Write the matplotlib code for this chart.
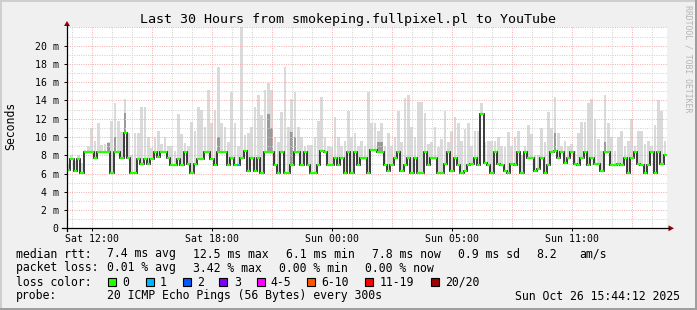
import numpy as np
import matplotlib
matplotlib.use("Agg")
import matplotlib.pyplot as plt
from matplotlib.patches import Rectangle, Polygon
from matplotlib.lines import Line2D

W, H = 697, 310
MONO = "DejaVu Sans Mono"

# median rtt in ms, one value per 10 minutes (30 hours)
median_ms = [
    6.4, 7.6, 6.3, 7.6, 6.1, 8.4, 8.4, 8.4, 7.7, 8.4,
    8.4, 8.4, 8.4, 6.1, 8.4, 8.4, 7.7, 10.4, 7.7, 6.1,
    6.1, 7.6, 7.0, 7.6, 7.0, 7.6, 8.4, 7.8, 8.4, 8.4,
    7.7, 6.9, 6.9, 7.6, 6.9, 8.4, 7.0, 6.1, 7.0, 7.6,
    7.6, 8.4, 8.4, 7.6, 6.9, 8.4,
    8.4, 8.4, 6.9, 7.7, 6.9, 6.9, 7.7, 8.5, 6.3, 7.7,
    6.3, 7.7, 6.1, 8.4, 8.4, 8.4, 6.9, 6.1, 8.4, 6.1,
    6.1, 6.9, 8.4, 8.4, 6.9, 8.4, 6.9, 6.1, 6.1, 6.9,
    8.5, 8.4, 6.9, 6.9, 7.7, 6.9, 7.7, 6.1, 8.4, 6.1,
    8.4, 6.9, 7.7, 7.7, 6.1,
    8.6, 8.6, 8.4, 8.4, 6.9, 6.3, 6.9, 7.7, 8.4, 6.3,
    6.9, 7.7, 6.1, 7.7, 6.1, 6.1, 8.4, 6.9, 7.7, 7.7,
    6.1, 6.1, 7.0, 8.4, 6.3, 7.7, 6.9, 6.1, 6.3, 6.9,
    7.0, 7.7, 6.9, 12.5, 7.2, 6.9, 6.1, 8.4, 7.0, 6.9,
    6.3, 6.1, 7.0, 6.9, 8.4,
    6.1, 8.4, 7.7, 7.7, 6.3, 6.5, 7.7, 6.1, 6.9, 8.4,
    8.5, 7.7, 8.4, 7.2, 7.7, 8.4, 7.0, 6.9, 7.7, 8.4,
    6.9, 7.7, 7.0, 7.0, 6.3, 8.4, 8.4, 6.9, 6.9, 7.0,
    6.9, 7.7, 6.1, 7.7, 8.4, 7.0, 6.9, 6.1, 6.9, 8.4,
    6.1, 8.4, 7.0, 8.0,
]

# top of the smoke (slowest ping) in ms
smoke_max_ms = [
    7.0, 8.0, 7.4, 8.0, 7.2, 8.6, 9.0, 11.0, 9.6, 11.5,
    9.1, 9.2, 9.5, 11.8, 13.7, 11.8, 10.5, 14.2, 10.4, 8.0,
    10.4, 10.4, 13.3, 13.3, 10.0, 8.8, 10.0, 10.7, 9.2, 10.0,
    9.0, 9.0, 8.5, 12.5, 10.3, 9.3, 9.0, 11.6, 10.7, 13.3,
    13.0, 11.1, 15.1, 11.5, 13.0, 17.7,
    11.5, 11.1, 9.5, 14.9, 11.5, 9.0, 22.0, 10.2, 10.4, 11.1,
    13.3, 14.6, 12.4, 15.1, 15.9, 15.1, 10.0, 9.5, 12.7, 17.7,
    11.1, 14.2, 14.9, 11.1, 10.0, 9.0, 9.1, 9.1, 10.0, 11.8,
    14.4, 10.0, 9.0, 8.9, 12.2, 10.0, 9.0, 9.6, 12.9, 10.0,
    10.4, 9.0, 9.6, 9.0,
    14.9, 11.5, 11.5, 10.7, 11.5, 9.0, 10.4, 9.0, 10.0, 12.9,
    9.5, 14.3, 14.6, 11.1, 10.0, 13.8, 13.8, 12.6, 9.2, 9.4,
    11.1, 8.9, 9.8, 12.9, 9.5, 10.7, 12.2, 11.5, 9.6, 10.9,
    11.5, 9.0, 10.7, 10.7, 13.7, 9.4, 9.6, 9.6, 9.6, 10.0,
    9.0, 8.9, 10.5, 9.0, 10.0,
    10.7, 8.0, 9.0, 11.3, 10.3, 8.0, 8.0, 11.0, 9.5, 12.7,
    11.0, 14.4, 10.4, 9.0, 9.6, 9.0, 9.2, 8.5, 10.4, 11.6,
    11.6, 13.7, 14.2, 12.0, 9.8, 8.5, 14.6, 11.5, 10.0, 8.5,
    10.0, 10.7, 9.0, 9.6, 12.0, 9.0, 10.7, 10.7, 9.2, 9.6,
    9.0, 11.3, 14.0, 12.9, 9.6,
]

# denser smoke near the median
dark_idx = [12, 14, 17, 45, 60, 61, 67, 68, 93, 94, 146, 161]
dark_top_ms = [9.3, 10.0, 12.6, 10.0, 12.5, 11.0, 10.5, 10.0, 9.5, 9.5, 10.4, 9.5]

# samples with packet loss (bucket index into loss colours)
loss_idx = [51]
loss_bucket = [1]

x_tick_labels = ["Sat 12:00", "Sat 18:00", "Sun 00:00", "Sun 05:00", "Sun 11:00"]
y_tick_labels = ["0", "2 m", "4 m", "6 m", "8 m", "10 m", "12 m", "14 m",
                 "16 m", "18 m", "20 m"]
loss_labels = ["0", "1", "2", "3", "4-5", "6-10", "11-19", "20/20"]
loss_colors = ["#26ff00", "#00b8ff", "#0059ff", "#7e00ff", "#ff00ff",
               "#ff5500", "#ff0000", "#a10000"]


def fx(px):
    return px / W


def fy(py):
    return 1 - py / H


fig = plt.figure(figsize=(W / 100, H / 100), dpi=100, facecolor="#f0f0f0")

ax = fig.add_axes([fx(67), fy(228.3), 600 / W, (228.3 - 26.7) / H])
ax.set_facecolor("white")
ax.set_xlim(0, 30)
ax.set_ylim(0, 22.08)
for s in ax.spines.values():
    s.set_visible(False)

med = np.array(median_ms)
hi = np.array(smoke_max_ms)
n = len(med)
step = 30 / n
edges = np.arange(n + 1) * step

# smoke
ax.bar(edges[:-1], hi - med, bottom=med, width=step * 0.8, align="edge",
       color="#dadada", linewidth=0, zorder=1)
di = np.array(dark_idx)
ax.bar(edges[di], np.array(dark_top_ms) - med[di], bottom=med[di], width=step * 0.8,
       align="edge", color="#9a9a9a", linewidth=0, zorder=1.2)

# dotted grid on top of the smoke
dot = (0, (1, 1.3))
for v in range(1, 23):
    c = "#d2d2d2" if v % 2 else "#f2b0b0"
    ax.axhline(v, color=c, lw=0.72, ls=dot, zorder=2)
for h in np.arange(0.25, 30, 1.0):
    major = abs((h - 1.25) % 3) < 1e-6
    c = "#f2b0b0" if major else "#d2d2d2"
    ax.axvline(h, color=c, lw=0.72, ls=dot, zorder=2)

# median line coloured by loss
ax.stairs(med, edges, color="#1a1a1a", lw=1.2, zorder=3, baseline=None)
cols = [loss_colors[0]] * n
for i, b in zip(loss_idx, loss_bucket):
    cols[i] = loss_colors[b]
ax.hlines(med, edges[:-1], edges[1:], colors=cols, lw=1.6, zorder=4)

# ticks
ax.set_xticks(np.arange(len(x_tick_labels)) * 6 + 1.25)
ax.set_xticklabels(x_tick_labels, fontfamily=MONO, fontsize=7.1)
ax.set_yticks(np.arange(len(y_tick_labels)) * 2)
ax.set_yticklabels(y_tick_labels, fontfamily=MONO, fontsize=7.1)
ax.tick_params(axis="x", length=2.5, width=0.7, pad=1.5, color="black")
ax.tick_params(axis="y", length=2.5, width=0.7, pad=3.5, color="black")

# axes with arrows
fig.add_artist(Line2D([fx(62), fx(669)], [fy(228.3), fy(228.3)], color="black", lw=0.9))
fig.add_artist(Line2D([fx(67), fx(67)], [fy(231), fy(25)], color="black", lw=0.9))
fig.add_artist(Polygon([(fx(668.5), fy(225.3)), (fx(668.5), fy(231.3)), (fx(674), fy(228.3))],
                       closed=True, color="#990000", lw=0))
fig.add_artist(Polygon([(fx(64), fy(26)), (fx(70), fy(26)), (fx(67), fy(21))],
                       closed=True, color="#990000", lw=0))

# frame (rrdtool shade)
fig.add_artist(Rectangle((0, fy(2)), 1, 2 / H, color="#cfcfcf", lw=0))
fig.add_artist(Rectangle((0, 0), 2 / W, 1, color="#cfcfcf", lw=0))
fig.add_artist(Rectangle((0, 0), 1, 2 / H, color="#9e9e9e", lw=0))
fig.add_artist(Rectangle((fx(695), 0), 2 / W, 1, color="#9e9e9e", lw=0))

# texts
fig.text(fx(348), fy(19), "Last 30 Hours from smokeping.fullpixel.pl to YouTube",
         ha="center", va="center", fontfamily=MONO, fontsize=9.6)
fig.text(fx(11), fy(126), "Seconds", rotation=90, ha="center", va="center",
         fontfamily=MONO, fontsize=8.3)
fig.text(fx(688), fy(59), "RRDTOOL / TOBI OETIKER", rotation=270, ha="center",
         va="center", fontfamily=MONO, fontsize=5.9, color="#b4b4b4")

fs = 8.3
line1 = [(16, "median rtt:"), (107, "7.4 ms avg"), (192.7, "12.5 ms max"),
         (286, "6.1 ms min"), (372, "7.8 ms now"), (458, "0.9 ms sd"),
         (536.7, "8.2"), (579.3, "am/s")]
line2 = [(16, "packet loss:"), (107, "0.01 % avg"), (192.7, "3.42 % max"),
         (279.3, "0.00 % min"), (365, "0.00 % now")]
for x, t in line1:
    fig.text(fx(x), fy(254), t, ha="left", va="center", fontfamily=MONO, fontsize=fs)
for x, t in line2:
    fig.text(fx(x), fy(268), t, ha="left", va="center", fontfamily=MONO, fontsize=fs)

fig.text(fx(16), fy(282), "loss color:", ha="left", va="center", fontfamily=MONO, fontsize=fs)
box_x = [108.3, 145.7, 182.7, 219.3, 256.7, 307.3, 365, 430.7]
lab_x = [122.7, 160, 197, 234.3, 270.7, 321.7, 380, 445.3]
for bx, lx, lab, c in zip(box_x, lab_x, loss_labels, loss_colors):
    fig.add_artist(Rectangle((fx(bx), fy(286)), 8 / W, 8 / H, facecolor=c,
                             edgecolor="black", lw=0.8))
    fig.text(fx(lx), fy(282), lab, ha="left", va="center", fontfamily=MONO, fontsize=fs)

fig.text(fx(16), fy(296), "probe:", ha="left", va="center", fontfamily=MONO, fontsize=fs)
fig.text(fx(107), fy(296), "20 ICMP Echo Pings (56 Bytes) every 300s", ha="left",
         va="center", fontfamily=MONO, fontsize=fs)
fig.text(fx(680), fy(296), "Sun Oct 26 15:44:12 2025", ha="right", va="center",
         fontfamily=MONO, fontsize=fs)

fig.savefig("out.png", dpi=100, facecolor=fig.get_facecolor())
